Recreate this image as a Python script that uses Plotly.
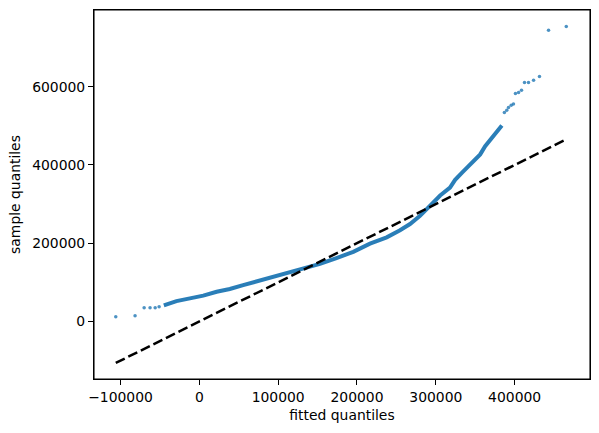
import plotly.graph_objects as go

# Q-Q plot values
# dense part of the point cloud (drawn as a thick band)
dense_x = [-45000, -39000, -29000, -12000, 5000, 22000, 38700, 55600, 72600, 89500,
           102000, 127600, 153000, 174000, 195300, 216500, 237700, 254600, 267300,
           280000, 288500, 301000, 305500, 318000, 324500, 333000, 345700, 356300,
           362600, 371000, 377500, 380800, 383800]
dense_y = [41000, 46000, 52000, 59000, 66000, 76000, 83000, 93000, 102000, 111000,
           118000, 131000, 147000, 162000, 178000, 199000, 215000, 233000, 249000,
           270000, 288000, 316000, 322000, 342000, 362000, 380000, 406000, 427000,
           448000, 470000, 483000, 494000, 501000]

# sparse tails (individual points)
low_x = [-106000, -81500, -70000, -62500, -56000, -51000]
low_y = [12000, 14600, 35000, 35000, 35000, 37600]
high_x = [387000, 390000, 392200, 395600, 398500, 401000, 405000, 408700,
          412500, 417600, 424000, 431500, 443000, 465500]
high_y = [534000, 540000, 546600, 552500, 556000, 582500, 585000, 591000,
          610600, 610600, 616500, 626000, 744000, 754000]

# 45 degree reference line
line_x = [-106000, 466000]
line_y = [-106000, 466000]

xtick_vals = [-100000, 0, 100000, 200000, 300000, 400000]
xtick_text = ['\u2212100000', '0', '100000', '200000', '300000', '400000']
ytick_vals = [0, 200000, 400000, 600000]
ytick_text = ['0', '200000', '400000', '600000']

fig = go.Figure()
fig.add_trace(go.Scatter(
    x=dense_x, y=dense_y, mode='lines',
    line=dict(color='rgba(31,119,180,0.95)', width=4),
    showlegend=False, hoverinfo='skip'
))
fig.add_trace(go.Scatter(
    x=low_x + high_x, y=low_y + high_y, mode='markers',
    marker=dict(color='rgba(31,119,180,0.8)', size=3.5, line=dict(width=0)),
    showlegend=False
))
fig.add_trace(go.Scatter(
    x=line_x, y=line_y, mode='lines',
    line=dict(color='black', width=2.5, dash='10px,4px'),
    showlegend=False
))

axis_common = dict(
    showgrid=False, zeroline=False, showline=True, linecolor='black',
    linewidth=1.1, mirror=True, ticks='outside', ticklen=5, tickwidth=1.1,
    tickcolor='black', tickfont=dict(size=13.9, color='black'), automargin=False,
)
fig.update_xaxes(range=[-133600, 495600], tickvals=xtick_vals, ticktext=xtick_text,
                 title=dict(text='fitted quantiles', font=dict(size=13.9, color='black'),
                            standoff=6),
                 **axis_common)
fig.update_yaxes(range=[-147000, 796000], tickvals=ytick_vals, ticktext=ytick_text,
                 title=dict(text='sample quantiles', font=dict(size=13.9, color='black'),
                            standoff=8),
                 **axis_common)

# axes frame
fig.add_shape(type='rect', xref='paper', yref='paper', x0=0, y0=0, x1=1, y1=1,
              line=dict(color='black', width=1.1), layer='above')

fig.update_layout(
    width=599, height=433,
    margin=dict(l=94, r=9, t=10, b=54),
    paper_bgcolor='white', plot_bgcolor='white',
    font=dict(family='DejaVu Sans', size=13.9, color='black'),
    showlegend=False,
)

fig.write_html("out.html", config={'displayModeBar': False},
               post_script="document.body.style.margin='0';")
